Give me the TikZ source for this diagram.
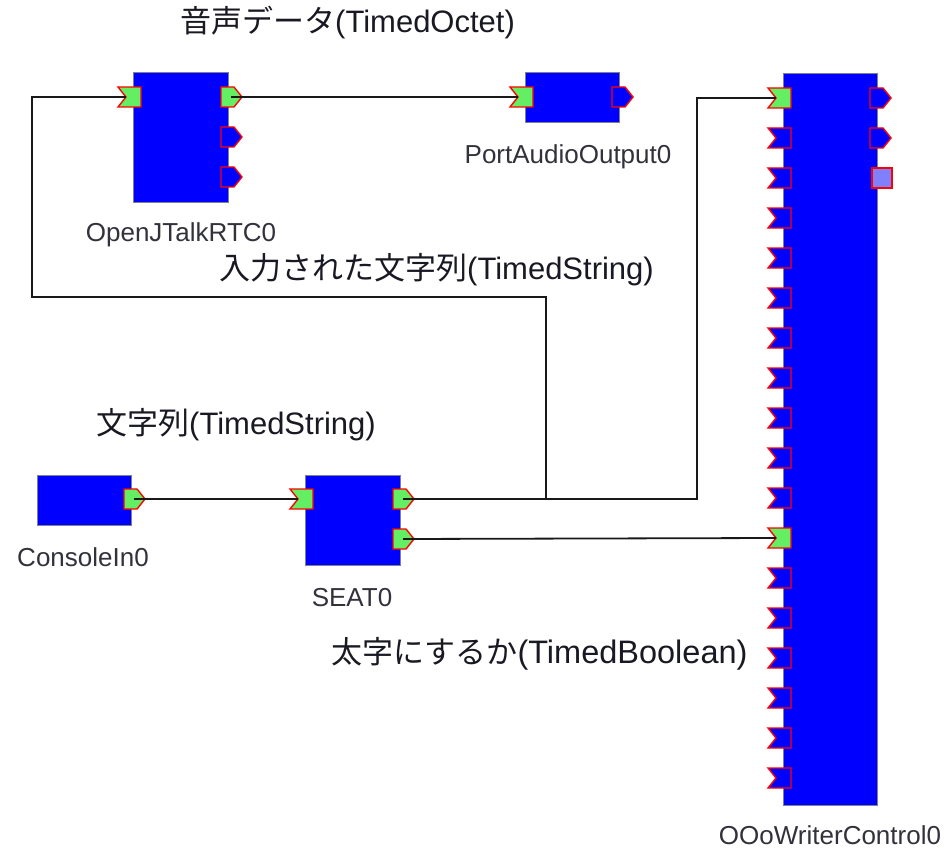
\documentclass[tikz,border=0pt]{standalone}
\usepackage{fontspec}
\setmainfont{Liberation Sans}
\newfontfamily\cjk{Noto Sans CJK JP}
\definecolor{compblue}{RGB}{0,0,255}
\definecolor{compedge}{RGB}{128,128,140}
\definecolor{portgreen}{RGB}{100,238,100}
\definecolor{portred}{RGB}{255,0,0}
\definecolor{svcfill}{RGB}{128,128,255}
\definecolor{wirecol}{RGB}{25,25,25}
\definecolor{txtcol}{RGB}{25,25,35}
\definecolor{namecol}{RGB}{50,50,60}
\newcommand{\lbl}[3][31]{{\cjk\fontsize{31}{36}\selectfont #2}{\fontsize{#1}{36}\selectfont #3}}
\tikzset{
  comp/.style={draw=compedge, line width=1pt, fill=compblue, inner sep=0pt, rectangle},
  portline/.style={draw=portred, line width=1.4pt, line join=miter},
  pics/inport/.style={code={\path[portline, fill=#1] (-8,-10) -- (15,-10) -- (15,10) -- (-8,10) -- (0,0) -- cycle;}},
  pics/outport/.style={code={\path[portline, fill=#1] (-10,-10) -- (3,-10) -- (11,0) -- (3,10) -- (-10,10) -- cycle;}},
  wire/.style={draw=wirecol, line width=1.8pt},
  cname/.style={text=namecol, font=\fontsize{26}{30}\selectfont, inner sep=0pt},
  tlabel/.style={text=txtcol, anchor=west, inner sep=0pt}
}
\begin{document}
\begin{tikzpicture}[x=1pt, y=-1pt]
\path[use as bounding box, fill=white] (0,0) rectangle (951,848);

% components
\node[comp, minimum width=95, minimum height=130] (oj) at (180.5,138) {};
\node[comp, minimum width=94, minimum height=50] (pa) at (572,98) {};
\node[comp, minimum width=94, minimum height=731] (ooo) at (830,439.5) {};
\node[comp, minimum width=94, minimum height=50] (ci) at (84,500) {};
\node[comp, minimum width=95, minimum height=90] (seat) at (352.5,520) {};

% port anchors
\coordinate (oj-i) at (126,97);
\coordinate (oj-o1) at (231,97);
\coordinate (oj-o2) at (231,137);
\coordinate (oj-o3) at (231,177);
\coordinate (pa-i) at (518,97);
\coordinate (pa-o) at (622,97);
\foreach \k in {0,...,17} { \coordinate (ooo-i\k) at (776,98+40*\k); }
\coordinate (ooo-o1) at (880,98);
\coordinate (ooo-o2) at (880,138);
\coordinate (ci-o) at (134,499);
\coordinate (seat-i) at (298,499);
\coordinate (seat-o1) at (403,499);
\coordinate (seat-o2) at (403,539);

% ports
\pic at (oj-i) {inport=portgreen};
\pic at (oj-o1) {outport=portgreen};
\pic at (oj-o2) {outport=compblue};
\pic at (oj-o3) {outport=compblue};
\pic at (pa-i) {inport=portgreen};
\pic at (pa-o) {outport=compblue};
\foreach \k in {1,...,10,12,13,14,15,16,17} { \pic at (ooo-i\k) {inport=compblue}; }
\pic at (ooo-i0) {inport=portgreen};
\pic at (ooo-i11) {inport=portgreen};
\pic at (ooo-o1) {outport=compblue};
\pic at (ooo-o2) {outport=compblue};
\node[portline, fill=svcfill, minimum size=20, inner sep=0pt, rectangle] (ooo-svc) at (882,178) {};
\pic at (ci-o) {outport=portgreen};
\pic at (seat-i) {inport=portgreen};
\pic at (seat-o1) {outport=portgreen};
\pic at (seat-o2) {outport=portgreen};

% connectors
\coordinate (bendA) at (697,499);
\coordinate (bendB) at (546,297);
\coordinate (bendC) at (32,297);
\draw[wire] (oj-o1) -- (pa-i);
\draw[wire] (ci-o) -- (seat-i);
\draw[wire] (seat-o2) -- (ooo-i11);
\draw[wire] (seat-o1) -- (bendA) |- (ooo-i0);
\draw[wire] (seat-o1) -| (bendB) -- (bendC) |- (oj-i);

% component names
\node[cname] (oj-name) at (181,235) {OpenJTalkRTC0};
\node[cname] (pa-name) at (568,157) {PortAudioOutput0};
\node[cname] (ci-name) at (83,557) {ConsoleIn0};
\node[cname] (seat-name) at (352,598) {SEAT0};
\node[cname] (ooo-name) at (830,835) {OOoWriterControl0};

% data labels
\node[tlabel] (lbl1) at (180,23) {\lbl{音声データ}{(TimedOctet)}};
\node[tlabel] (lbl2) at (219,270) {\lbl{入力された文字列}{(TimedString)}};
\node[tlabel] (lbl3) at (96,425) {\lbl{文字列}{(TimedString)}};
\node[tlabel] (lbl4) at (331,654) {\lbl[32.5]{太字にするか}{(TimedBoolean)}};
\end{tikzpicture}
\end{document}
